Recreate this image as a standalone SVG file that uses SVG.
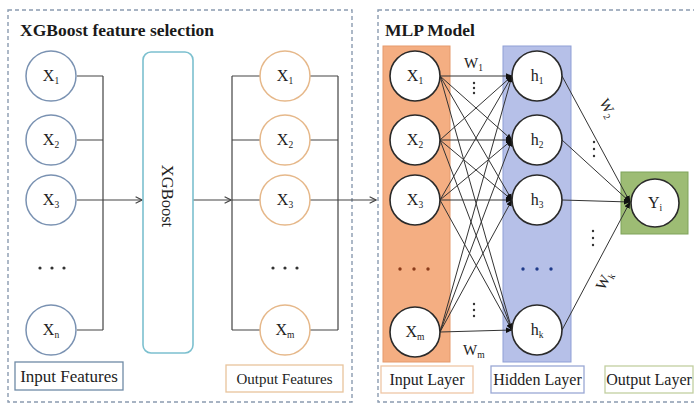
<svg xmlns="http://www.w3.org/2000/svg" width="694" height="404" viewBox="0 0 694 404">
<defs>
<style>
.panel{fill:none;stroke:#8a9bb0;stroke-width:1.4;stroke-dasharray:4 3}
.title{font-family:"Liberation Serif",serif;font-weight:bold;font-size:17.5px;fill:#1a1a1a}
.lbl{font-family:"Liberation Serif",serif;font-size:16px;fill:#222;text-anchor:middle}
.nt{font-family:"Liberation Serif",serif;font-size:16px;fill:#222;text-anchor:middle}
.sub{font-size:9.5px}
.inc{fill:#fff;stroke:#7a92b2;stroke-width:1.5}
.outc{fill:#fff;stroke:#e6b88a;stroke-width:1.5}
.mc{fill:#fff;stroke:#2a2a2a;stroke-width:1.6}
.ln{fill:none;stroke:#444;stroke-width:1.2}
.mln{fill:none;stroke:#333;stroke-width:1}
.w{font-family:"Liberation Serif",serif;font-size:15px;fill:#222}
</style>
<marker id="oa" viewBox="0 0 10 10" refX="9" refY="5" markerWidth="8" markerHeight="8" orient="auto" markerUnits="userSpaceOnUse">
<path d="M1,1 L9,5 L1,9" fill="none" stroke="#444" stroke-width="1.4"/>
</marker>
<marker id="fa" viewBox="0 0 10 10" refX="9" refY="5" markerWidth="7" markerHeight="7" orient="auto" markerUnits="userSpaceOnUse">
<path d="M0,1 L10,5 L0,9 z" fill="#111"/>
</marker>
</defs>
<rect width="694" height="404" fill="#fff"/>

<g id="panel-xgb">
<rect class="panel" x="8" y="10" width="344" height="392"/>
<text class="title" x="20" y="36">XGBoost feature selection</text>
</g>
<g id="panel-mlp">
<rect class="panel" x="378" y="10" width="330" height="392"/>
<text class="title" x="385" y="36">MLP Model</text>
</g>

<g id="layer-boxes">
<rect x="383" y="46" width="67" height="316" fill="#f4ae82" stroke="#e59a6c" stroke-width="1"/>
<rect x="503" y="46" width="68" height="316" fill="#b6c0e8" stroke="#8f9fd6" stroke-width="1"/>
<rect x="621" y="172" width="67" height="62" fill="#9dbc74" stroke="#7fa35a" stroke-width="1"/>
</g>

<g id="connectors">
<path class="ln" d="M77,76 H103 M77,140 H103 M77,200 H103 M77,330 H103 M103,76 V330"/>
<path class="ln" d="M103,200 H142" marker-end="url(#oa)"/>
<path class="ln" d="M193,200 H231" marker-end="url(#oa)"/>
<path class="ln" d="M232,76 V330 M232,76 H260 M232,140 H260 M232,200 H260 M232,330 H260"/>
<path class="ln" d="M310,76 H338 M310,140 H338 M310,200 H338 M310,330 H338 M338,76 V330"/>
<path class="ln" d="M338,200 H376" marker-end="url(#oa)"/>
<g marker-end="url(#fa)">
<path class="mln" d="M440,76 L512,76"/>
<path class="mln" d="M440,76 L512,140"/>
<path class="mln" d="M440,76 L512,200"/>
<path class="mln" d="M440,76 L512,330"/>
<path class="mln" d="M440,140 L512,76"/>
<path class="mln" d="M440,140 L512,140"/>
<path class="mln" d="M440,140 L512,200"/>
<path class="mln" d="M440,140 L512,330"/>
<path class="mln" d="M440,200 L512,76"/>
<path class="mln" d="M440,200 L512,140"/>
<path class="mln" d="M440,200 L512,200"/>
<path class="mln" d="M440,200 L512,330"/>
<path class="mln" d="M440,332 L512,76"/>
<path class="mln" d="M440,332 L512,140"/>
<path class="mln" d="M440,332 L512,200"/>
<path class="mln" d="M440,332 L512,330"/>
<path class="mln" d="M562,76 L630,202"/>
<path class="mln" d="M562,140 L630,202"/>
<path class="mln" d="M562,200 L630,202"/>
<path class="mln" d="M562,330 L630,202"/>
</g>
</g>

<g id="weight-labels">
<text class="w" x="464" y="68">W<tspan class="sub" dy="3">1</tspan></text>
<text class="w" x="463" y="355">W<tspan class="sub" dy="3">m</tspan></text>
<g fill="#333">
<circle cx="474" cy="83" r="1.2"/><circle cx="474" cy="88" r="1.2"/><circle cx="474" cy="93" r="1.2"/>
<circle cx="474" cy="304" r="1.2"/><circle cx="474" cy="310" r="1.2"/><circle cx="474" cy="316" r="1.2"/>
<circle cx="594" cy="142" r="1.2"/><circle cx="594" cy="149" r="1.2"/><circle cx="594" cy="156" r="1.2"/>
<circle cx="593" cy="231" r="1.2"/><circle cx="593" cy="238" r="1.2"/><circle cx="593" cy="245" r="1.2"/>
</g>
<text class="w" transform="translate(599,102) rotate(62)">W<tspan class="sub" dy="3">2</tspan></text>
<text class="w" transform="translate(604,291) rotate(-62)">W<tspan class="sub" dy="3">k</tspan></text>
</g>

<g id="in-X1"><circle class="inc" cx="51" cy="76" r="25"/><text class="nt" x="51" y="81">X<tspan class="sub" dy="3">1</tspan></text></g>
<g id="in-X2"><circle class="inc" cx="51" cy="140" r="25"/><text class="nt" x="51" y="145">X<tspan class="sub" dy="3">2</tspan></text></g>
<g id="in-X3"><circle class="inc" cx="51" cy="200" r="25"/><text class="nt" x="51" y="205">X<tspan class="sub" dy="3">3</tspan></text></g>
<g id="in-dots" fill="#333"><circle cx="40" cy="268" r="1.6"/><circle cx="52" cy="268" r="1.6"/><circle cx="64" cy="268" r="1.6"/></g>
<g id="in-Xn"><circle class="inc" cx="51" cy="330" r="25"/><text class="nt" x="51" y="335">X<tspan class="sub" dy="3">n</tspan></text></g>

<g id="xgboost">
<rect x="143" y="52" width="50" height="301" rx="8" fill="#fff" stroke="#7cc0cf" stroke-width="1.6"/>
<text transform="translate(162,196) rotate(90)" class="nt" style="font-size:16.5px">XGBoost</text>
</g>

<g id="out-X1"><circle class="outc" cx="285" cy="76" r="25"/><text class="nt" x="285" y="81">X<tspan class="sub" dy="3">1</tspan></text></g>
<g id="out-X2"><circle class="outc" cx="285" cy="140" r="25"/><text class="nt" x="285" y="145">X<tspan class="sub" dy="3">2</tspan></text></g>
<g id="out-X3"><circle class="outc" cx="285" cy="200" r="25"/><text class="nt" x="285" y="205">X<tspan class="sub" dy="3">3</tspan></text></g>
<g id="out-dots" fill="#333"><circle cx="273" cy="268" r="1.6"/><circle cx="285" cy="268" r="1.6"/><circle cx="297" cy="268" r="1.6"/></g>
<g id="out-Xm"><circle class="outc" cx="285" cy="330" r="25"/><text class="nt" x="285" y="335">X<tspan class="sub" dy="3">m</tspan></text></g>

<g id="mlp-X1"><circle class="mc" cx="415" cy="76" r="25"/><text class="nt" x="415" y="81">X<tspan class="sub" dy="3">1</tspan></text></g>
<g id="mlp-X2"><circle class="mc" cx="415" cy="140" r="25"/><text class="nt" x="415" y="145">X<tspan class="sub" dy="3">2</tspan></text></g>
<g id="mlp-X3"><circle class="mc" cx="415" cy="200" r="25"/><text class="nt" x="415" y="205">X<tspan class="sub" dy="3">3</tspan></text></g>
<g id="mlp-xdots" fill="#8a3a1a"><circle cx="400" cy="269" r="1.7"/><circle cx="414" cy="269" r="1.7"/><circle cx="428" cy="269" r="1.7"/></g>
<g id="mlp-Xm"><circle class="mc" cx="415" cy="332" r="25"/><text class="nt" x="415" y="337">X<tspan class="sub" dy="3">m</tspan></text></g>

<g id="mlp-h1"><circle class="mc" cx="537" cy="76" r="25"/><text class="nt" x="537" y="81">h<tspan class="sub" dy="3">1</tspan></text></g>
<g id="mlp-h2"><circle class="mc" cx="537" cy="140" r="25"/><text class="nt" x="537" y="145">h<tspan class="sub" dy="3">2</tspan></text></g>
<g id="mlp-h3"><circle class="mc" cx="537" cy="200" r="25"/><text class="nt" x="537" y="205">h<tspan class="sub" dy="3">3</tspan></text></g>
<g id="mlp-hdots" fill="#1f3a8a"><circle cx="523" cy="269" r="1.7"/><circle cx="537" cy="269" r="1.7"/><circle cx="551" cy="269" r="1.7"/></g>
<g id="mlp-hk"><circle class="mc" cx="537" cy="330" r="25"/><text class="nt" x="537" y="335">h<tspan class="sub" dy="3">k</tspan></text></g>

<g id="mlp-Y"><circle class="mc" cx="655" cy="203" r="24"/><text class="nt" x="655" y="208">Y<tspan class="sub" dy="3">i</tspan></text></g>

<g id="label-input-features"><rect x="15" y="362" width="108" height="28" fill="#fff" stroke="#6f8aa6" stroke-width="1.3"/><text class="lbl" x="69" y="382" style="font-size:17px">Input Features</text></g>
<g id="label-output-features"><rect x="226" y="365" width="117" height="27" fill="#fff" stroke="#e8c49c" stroke-width="1.3"/><text class="lbl" x="284.5" y="384" style="font-size:15px">Output Features</text></g>
<g id="label-input-layer"><rect x="381" y="366" width="92" height="27" fill="#fff" stroke="#efc7a6" stroke-width="1.3"/><text class="lbl" x="427" y="385">Input Layer</text></g>
<g id="label-hidden-layer"><rect x="491" y="366" width="93" height="27" fill="#fff" stroke="#9aa8d4" stroke-width="1.3"/><text class="lbl" x="537.5" y="385">Hidden Layer</text></g>
<g id="label-output-layer"><rect x="605" y="366" width="88" height="27" fill="#fff" stroke="#c2cfa0" stroke-width="1.3"/><text class="lbl" x="649" y="385">Output Layer</text></g>
</svg>
